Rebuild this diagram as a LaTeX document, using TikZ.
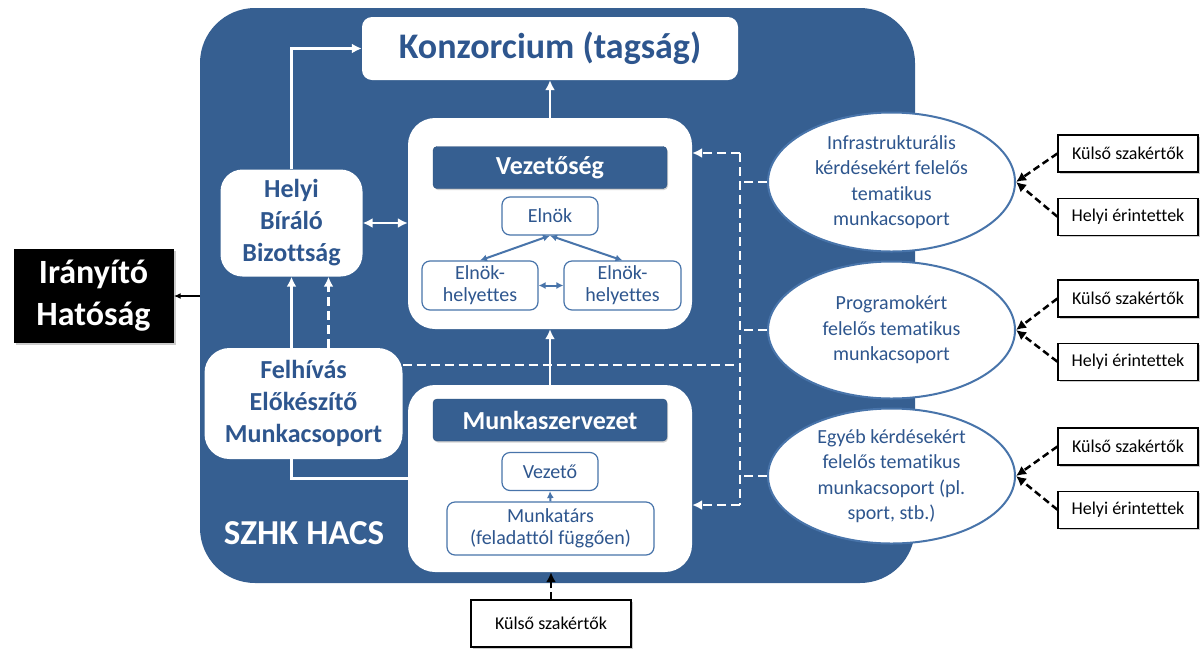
\documentclass[tikz,border=0pt]{standalone}
\usepackage{fontspec}
\setmainfont{Carlito}[Ligatures=NoCommon]
\usepackage{xcolor}
\usepackage{tikz}
\usetikzlibrary{positioning,arrows.meta,shapes.geometric,shadows}

\definecolor{hacsblue}{RGB}{54,95,145}
\definecolor{hacstext}{RGB}{46,86,142}
\definecolor{hacsline}{RGB}{72,116,170}

\begin{document}
\begin{tikzpicture}[x=1pt,y=-1pt,
    every node/.style={inner sep=0pt,align=center},
    bigbox/.style={fill=white,text=hacstext,rounded corners=22pt,font=\bfseries\fontsize{26}{32}\selectfont},
    frame/.style={fill=white,rounded corners=27pt,minimum width=284pt},
    head/.style={fill=hacsblue,draw=hacsblue!85!black,text=white,rounded corners=4pt,minimum width=234pt,minimum height=42pt,font=\bfseries\fontsize{26}{30}\selectfont,drop shadow={shadow xshift=1pt,shadow yshift=-1.5pt,opacity=0.35}},
    small/.style={draw=hacsline,line width=1.2pt,fill=white,text=hacstext,rounded corners=8pt,font=\fontsize{20}{22}\selectfont},
    group/.style={ellipse,draw=hacsline,line width=2pt,fill=white,text=hacstext,minimum width=247pt,font=\fontsize{20}{25.5}\selectfont},
    ext/.style={draw=black,line width=1.2pt,fill=white,minimum width=140pt,minimum height=37pt,font=\fontsize{18}{22}\selectfont,drop shadow={shadow xshift=1.5pt,shadow yshift=-1.5pt,opacity=0.4}},
    wtip/.tip={Latex[length=10pt,width=10pt]},
    btip/.tip={Latex[length=7pt,width=7pt]},
    wline/.style={draw=white,line width=2.5pt},
    wdash/.style={draw=white,line width=2.5pt,dash pattern=on 9pt off 5pt},
    bline/.style={draw=hacsline,line width=2pt},
    kdash/.style={draw=black,line width=2.5pt,dash pattern=on 7pt off 4pt}]
    \useasboundingbox (0,0) rectangle (1200,649);
    \node[fill=hacsblue,rounded corners=55pt,minimum width=715pt,minimum height=575pt] (hacs) at (557.5,295.5) {};
    \node[text=white,font=\bfseries\fontsize{35}{40}\selectfont] (name) at (304,533) {SZHK HACS};
    \node[fill=black,text=white,minimum width=160pt,minimum height=94pt,font=\bfseries\fontsize{34}{42}\selectfont,drop shadow={shadow xshift=2pt,shadow yshift=-2pt,opacity=0.4}] (IH) at (93.5,296) {Irányító\\Hatóság};
    \node[fill=white,text=hacstext,rounded corners=10pt,minimum width=376pt,minimum height=63pt,font=\bfseries\fontsize{36}{40}\selectfont] (K) at (550,48.5) {Konzorcium (tagság)};
    \node[bigbox,minimum width=142pt,minimum height=107pt] (HBB) at (291.5,223) {Helyi\\Bíráló\\Bizottság};
    \node[bigbox,rounded corners=25pt,minimum width=198pt,minimum height=111pt] (FEM) at (303.5,403.5) {Felhívás\\Előkészítő\\Munkacsoport};
    \node[frame,minimum height=211pt] (V) at (550,223.5) {};
    \node[head] (Vh) at (550,167.5) {Vezetőség};
    \node[small,minimum width=96pt,minimum height=38pt] (E) at (550,216) {Elnök};
    \node[small,minimum width=116pt,minimum height=49pt] (EH1) at (480,285.5) {Elnök-\\helyettes};
    \node[small,minimum width=117pt,minimum height=49pt] (EH2) at (622.5,285.5) {Elnök-\\helyettes};
    \node[frame,minimum height=187pt] (M) at (550,478.5) {};
    \node[head] (Mh) at (550,420) {Munkaszervezet};
    \node[small,minimum width=96pt,minimum height=38pt] (MV) at (550,471.5) {Vezető};
    \node[small,minimum width=207pt,minimum height=53pt] (MT) at (550.5,528.5) {Munkatárs\\(feladattól függően)};
    \node[group,minimum height=139pt] (G1) at (891.5,182) {Infrastrukturális\\kérdésekért felelős\\tematikus\\munkacsoport};
    \node[group,minimum height=137pt] (G2) at (891.5,330) {Programokért\\felelős tematikus\\munkacsoport};
    \node[group,minimum height=135pt] (G3) at (891.5,476) {Egyéb kérdésekért\\felelős tematikus\\munkacsoport (pl.\\sport, stb.)};
    \node[ext] (R1) at (1128,153.5) {Külső szakértők};
    \node[ext,below=25pt of R1] (H1) {Helyi érintettek};
    \node[ext] (R2) at (1128,298.5) {Külső szakértők};
    \node[ext,below=25pt of R2] (H2) {Helyi érintettek};
    \node[ext] (R3) at (1128,446.5) {Külső szakértők};
    \node[ext,below=25pt of R3] (H3) {Helyi érintettek};
    \node[ext,minimum width=160pt,minimum height=47pt] (KB) at (551,623.5) {Külső szakértők};
    \coordinate (bt) at (740,153);
    \coordinate (bm) at (740,365);
    \coordinate (bb) at (740,505);
    \draw[-{Latex[length=7pt,width=6pt]},line width=1.5pt] (hacs.west |- IH.east) -- (IH.east);
    \draw[wline,-wtip] (HBB.north) |- (K.west);
    \draw[wline,-wtip] (V.north) -- (K.south);
    \draw[wline,wtip-wtip] (HBB.east) -- (HBB.east -| V.west);
    \draw[wline,-wtip] (HBB.south |- FEM.north) -- (HBB.south);
    \draw[wdash,-wtip] ([xshift=37pt]HBB.south |- FEM.north) -- ([xshift=37pt]HBB.south);
    \draw[wline] (HBB.south |- FEM.south) |- (M.west);
    \draw[wdash] (FEM.east |- bm) -- (bm);
    \draw[wline,-wtip] (M.north) -- (V.south);
    \draw[wdash] (bt) -- (bb);
    \draw[wdash,-wtip] (bt) -- (bt -| V.east);
    \draw[wdash,-wtip] (bb) -- (bb -| M.east);
    \draw[wdash] (G1.west) -- (G1.west -| bt);
    \draw[wdash] (G2.west) -- (G2.west -| bt);
    \draw[wdash] (G3.west) -- (G3.west -| bt);
    \draw[bline,btip-btip] (E.south) -- (EH1.north);
    \draw[bline,btip-btip] (E.south) -- (EH2.north);
    \draw[bline,btip-btip] (EH1.east) -- (EH2.west);
    \draw[bline,-btip] (MT.north) -- (MV.south);
    \draw[kdash,-wtip] (R1.west) -- (G1.east);
    \draw[kdash,-wtip] (H1.west) -- (G1.east);
    \draw[kdash,-wtip] (R2.west) -- (G2.east);
    \draw[kdash,-wtip] (H2.west) -- (G2.east);
    \draw[kdash,-wtip] (R3.west) -- (G3.east);
    \draw[kdash,-wtip] (H3.west) -- (G3.east);
    \draw[kdash,-wtip] (KB.north) -- (KB.north |- M.south);
\end{tikzpicture}
\end{document}
